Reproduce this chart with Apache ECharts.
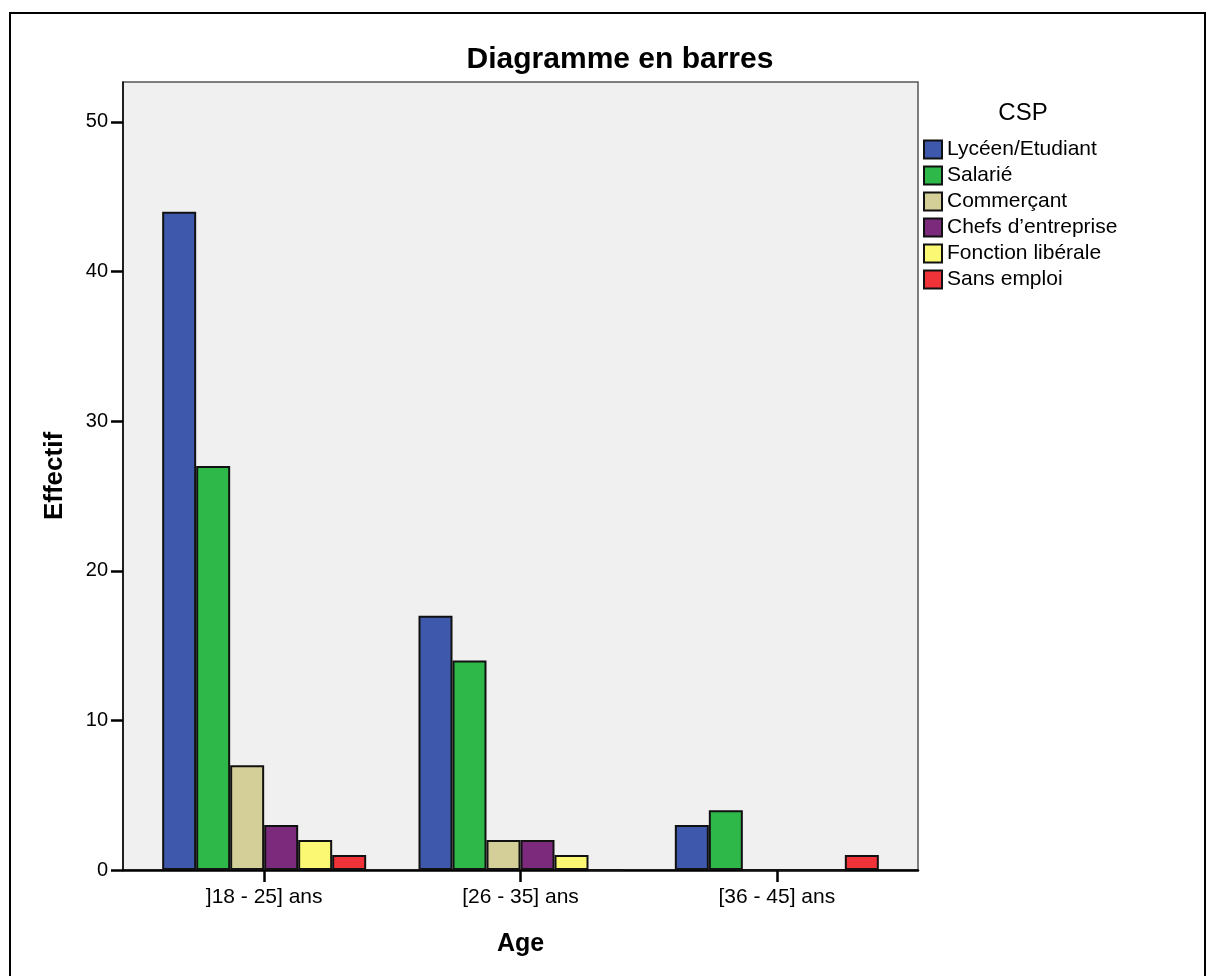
<!DOCTYPE html>
<html>
<head>
<meta charset="utf-8">
<script src="https://cdn.jsdelivr.net/npm/echarts@6/dist/echarts.min.js"></script>
<style>
  body { margin: 0; background: #fff; }
  #chart { width: 1208px; height: 976px; }
</style>
</head>
<body>
<div id="chart"></div>
<script>
const categories = [']18 - 25] ans', '[26 - 35] ans', '[36 - 45] ans'];
const seriesNames = ['Lycéen/Etudiant', 'Salarié', 'Commerçant', "Chefs d’entreprise", 'Fonction libérale', 'Sans emploi'];
const lyceen = [44, 17, 3];
const salarie = [27, 14, 4];
const commercant = [7, 2, 0];
const chefs = [3, 2, 0];
const liberale = [2, 1, 0];
const sansEmploi = [1, 0, 1];
const yTicks = [0, 10, 20, 30, 40, 50];

const colors = ['#3e58ab', '#2fb84a', '#d4ce98', '#7c2a7c', '#fbf874', '#ef3338'];
const values = [lyceen, salarie, commercant, chefs, liberale, sansEmploi];
const FONT = 'Liberation Sans, Arial, sans-serif';
const yMax = 52.67;

const chart = echarts.init(document.getElementById('chart'));

const option = {
  animation: false,
  color: colors,
  textStyle: { fontFamily: FONT, color: '#000' },
  graphic: [{
    type: 'rect',
    shape: { x: 10, y: 13, width: 1195, height: 1000 },
    style: { fill: 'none', stroke: '#000', lineWidth: 2 },
    silent: true
  }],
  title: [
    {
      text: 'Diagramme en barres',
      left: 615, top: 40, textAlign: 'center',
      textStyle: { fontFamily: FONT, fontSize: 30, fontWeight: 'bold', color: '#000' }
    },
    {
      text: 'CSP',
      left: 1018, top: 96, textAlign: 'center',
      textStyle: { fontFamily: FONT, fontSize: 24, fontWeight: 'normal', color: '#000' }
    }
  ],
  legend: {
    orient: 'vertical',
    left: 923, top: 139, padding: 0,
    itemWidth: 18, itemHeight: 18, itemGap: 5,
    icon: 'rect',
    textStyle: { fontFamily: FONT, fontSize: 21, lineHeight: 18, color: '#000' },
    data: seriesNames
  },
  grid: [
    { left: 123, top: 82, width: 795, height: 788, show: true,
      backgroundColor: '#f0f0f0', borderColor: '#555', borderWidth: 1.5 },
    { left: 136, top: 82, width: 769, height: 788 }
  ],
  xAxis: [
    { type: 'category', gridIndex: 0, data: categories,
      axisLine: { show: true, lineStyle: { color: '#000', width: 2.5 } },
      axisTick: { show: false }, axisLabel: { show: false }, splitLine: { show: false } },
    { type: 'category', gridIndex: 1, data: categories,
      name: 'Age', nameLocation: 'middle', nameGap: 62,
      nameTextStyle: { fontFamily: FONT, fontSize: 25, fontWeight: 'bold', color: '#000' },
      axisLine: { show: false },
      axisTick: { show: true, alignWithLabel: true, length: 12, lineStyle: { color: '#000', width: 2.5 } },
      axisLabel: { margin: 17, fontFamily: FONT, fontSize: 21, color: '#000' } }
  ],
  yAxis: [
    { type: 'value', gridIndex: 0, min: 0, max: yMax,
      name: 'Effectif', nameLocation: 'middle', nameGap: 55,
      nameTextStyle: { fontFamily: FONT, fontSize: 26, fontWeight: 'bold', color: '#000' },
      axisLine: { show: true, lineStyle: { color: '#000', width: 1.5 } },
      axisTick: { show: true, length: 12, customValues: yTicks, lineStyle: { color: '#000', width: 2.5 } },
      axisLabel: { margin: 15, fontFamily: FONT, fontSize: 20, color: '#000', customValues: yTicks },
      splitLine: { show: false } },
    { type: 'value', gridIndex: 1, min: 0, max: yMax, show: false }
  ],
  series: seriesNames.map((name, i) => ({
    name: name,
    type: 'bar',
    xAxisIndex: 1,
    yAxisIndex: 1,
    barWidth: 34,
    barGap: '0%',
    data: values[i],
    itemStyle: { color: colors[i], borderColor: '#111', borderWidth: 2 }
  }))
};

chart.setOption(option);
</script>
</body>
</html>
